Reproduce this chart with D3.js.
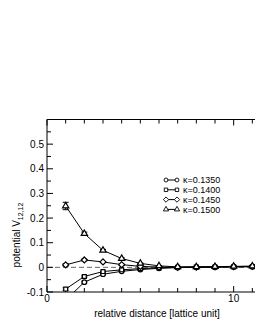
<!DOCTYPE html>
<html>
<head>
<meta charset="utf-8">
<script src="https://cdn.jsdelivr.net/npm/d3@7"></script>
<style>
  body { margin: 0; background: #fff; }
  svg { display: block; font-family: "Liberation Sans", Arial, sans-serif; }
</style>
</head>
<body>
<svg id="chart" width="255" height="330"></svg>
<script>
// ===== Data =====
const distances = [1, 2, 3, 4, 5, 6, 7, 8, 9, 10, 11];
const kappaLabels = ['κ=0.1350', 'κ=0.1400', 'κ=0.1450', 'κ=0.1500'];
const symbols = ['circle', 'square', 'diamond', 'triangle'];
const v1350 = [-0.133, -0.060, -0.028, -0.016, -0.009, -0.004, -0.001, 0.000, 0.001, 0.002, 0.003];
const v1400 = [-0.088, -0.037, -0.017, -0.010, -0.005, -0.002, 0.000, 0.001, 0.001, 0.002, 0.003];
const v1450 = [0.010, 0.030, 0.022, 0.011, 0.004, 0.001, 0.000, 0.001, 0.002, 0.003, 0.004];
const v1500 = [0.249, 0.137, 0.069, 0.036, 0.016, 0.006, 0.002, 0.002, 0.003, 0.004, 0.005];
const e1350 = [0.006, 0.004, 0.003, 0.002, 0.002, 0.001, 0.001, 0.001, 0.001, 0.001, 0.001];
const e1400 = [0.005, 0.003, 0.002, 0.002, 0.001, 0.001, 0.001, 0.001, 0.001, 0.001, 0.001];
const e1450 = [0.005, 0.003, 0.002, 0.002, 0.001, 0.001, 0.001, 0.001, 0.001, 0.001, 0.001];
const e1500 = [0.015, 0.006, 0.004, 0.003, 0.002, 0.001, 0.001, 0.001, 0.001, 0.001, 0.001];
const yTickLabels = [-0.1, 0, 0.1, 0.2, 0.3, 0.4, 0.5];
const xTickLabels = [0, 10];

const seriesValues = [v1350, v1400, v1450, v1500];
const seriesErrors = [e1350, e1400, e1450, e1500];

// ===== Layout =====
const svg = d3.select('#chart');
const plotLeft = 47, plotRight = 271, plotTop = 119.5, plotBottom = 292;

const x = d3.scaleLinear().domain([0, 12]).range([plotLeft, plotRight]);
const y = d3.scaleLinear().domain([-0.1, 0.6]).range([plotBottom, plotTop]);

svg.append('defs').append('clipPath').attr('id', 'plotClip')
    .append('rect')
    .attr('x', plotLeft).attr('y', plotTop)
    .attr('width', plotRight - plotLeft).attr('height', plotBottom - plotTop);

// Zero reference line (dashed)
svg.append('line')
    .attr('x1', x(0)).attr('x2', x(12))
    .attr('y1', y(0)).attr('y2', y(0))
    .style('stroke', '#666')
    .style('stroke-width', '1px')
    .style('stroke-dasharray', '5,3');

// ===== Axes (ticks inward) =====
const xMinor = d3.range(0, 13);
const yMinor = d3.range(-0.1, 0.601, 0.05).map(v => +v.toFixed(2));

function tickLen(isMajor) { return isMajor ? 6 : 4; }

const axisG = svg.append('g').style('stroke', '#000').style('stroke-width', '1px');

// bottom + top ticks
xMinor.forEach(v => {
    const major = v % 10 === 0;
    axisG.append('line')
        .attr('x1', x(v)).attr('x2', x(v))
        .attr('y1', plotBottom).attr('y2', plotBottom - tickLen(major));
    axisG.append('line')
        .attr('x1', x(v)).attr('x2', x(v))
        .attr('y1', plotTop).attr('y2', plotTop + tickLen(major));
});

// left ticks
yMinor.forEach(v => {
    const major = Math.abs(Math.round(v * 10) - v * 10) < 1e-6;
    axisG.append('line')
        .attr('x1', plotLeft).attr('x2', plotLeft + tickLen(major))
        .attr('y1', y(v)).attr('y2', y(v));
});

// frame
axisG.append('path')
    .attr('d', `M ${plotRight} ${plotTop} L ${plotLeft} ${plotTop} L ${plotLeft} ${plotBottom} L ${plotRight} ${plotBottom}`)
    .style('fill', 'none');

// tick labels
svg.selectAll('text.ylab')
    .data(yTickLabels)
    .enter().append('text')
    .attr('class', 'ylab')
    .attr('x', plotLeft - 3)
    .attr('y', d => y(d) + 3.5)
    .attr('text-anchor', 'end')
    .style('font-size', '10px')
    .text(d => d === 0 ? '0' : d.toString());

svg.selectAll('text.xlab')
    .data(xTickLabels)
    .enter().append('text')
    .attr('class', 'xlab')
    .attr('x', d => x(d))
    .attr('y', plotBottom + 10)
    .attr('text-anchor', 'middle')
    .style('font-size', '10px')
    .text(d => d);

// axis titles
svg.append('text')
    .attr('x', 157).attr('y', 317)
    .attr('text-anchor', 'middle')
    .style('font-size', '10px')
    .text('relative distance [lattice unit]');

const yTitle = svg.append('text')
    .attr('transform', 'translate(20,235) rotate(-90)')
    .attr('text-anchor', 'middle')
    .style('font-size', '10px');
yTitle.append('tspan').text('potential V');
yTitle.append('tspan').attr('dy', 3).style('font-size', '7px').text('12,12');

// ===== Series =====
// square diamond (rotated square), like the plotting program's marker
const symbolSquareDiamond = {
    draw(context, size) {
        const r = Math.sqrt(size / 2);
        context.moveTo(0, -r);
        context.lineTo(r, 0);
        context.lineTo(0, r);
        context.lineTo(-r, 0);
        context.closePath();
    }
};
const symbolType = {
    circle: d3.symbolCircle,
    square: d3.symbolSquare,
    diamond: symbolSquareDiamond,
    triangle: d3.symbolTriangle
};
const symbolSize = { circle: 16, square: 15, diamond: 18, triangle: 17 };

const plot = svg.append('g').attr('clip-path', 'url(#plotClip)');
const line = d3.line().x((d, i) => x(distances[i])).y(d => y(d));

seriesValues.forEach((vals, s) => {
    const g = plot.append('g');
    g.append('path')
        .attr('d', line(vals))
        .style('fill', 'none')
        .style('stroke', '#000')
        .style('stroke-width', '1px');

    // error bars
    vals.forEach((v, i) => {
        const err = seriesErrors[s][i];
        const cx = x(distances[i]);
        g.append('path')
            .attr('d', `M ${cx - 3} ${y(v + err)} H ${cx + 3} M ${cx} ${y(v + err)} V ${y(v - err)} M ${cx - 3} ${y(v - err)} H ${cx + 3}`)
            .style('fill', 'none')
            .style('stroke', '#000')
            .style('stroke-width', '1px');
    });

    const sym = d3.symbol().type(symbolType[symbols[s]]).size(symbolSize[symbols[s]]);
    g.selectAll('path.pt')
        .data(vals)
        .enter().append('path')
        .attr('class', 'pt')
        .attr('transform', (d, i) => `translate(${x(distances[i])},${y(d)})`)
        .attr('d', sym)
        .style('fill', '#fff')
        .style('stroke', '#000')
        .style('stroke-width', '1.2px');
});

// ===== Legend =====
const legend = svg.append('g');
kappaLabels.forEach((label, i) => {
    const ly = 180 + i * 9.8;
    const sym = d3.symbol().type(symbolType[symbols[i]]).size(symbols[i] === 'diamond' ? 14 : 12);
    legend.append('line')
        .attr('x1', 166).attr('x2', 177)
        .attr('y1', ly).attr('y2', ly)
        .style('stroke', '#000').style('stroke-width', '1px');
    [166, 177].forEach(sx => {
        legend.append('path')
            .attr('transform', `translate(${sx},${ly})`)
            .attr('d', sym)
            .style('fill', '#fff')
            .style('stroke', '#000')
            .style('stroke-width', '0.9px');
    });
    legend.append('text')
        .attr('x', 183).attr('y', ly + 3.2)
        .style('font-size', '9px')
        .text(label);
});
</script>
</body>
</html>
